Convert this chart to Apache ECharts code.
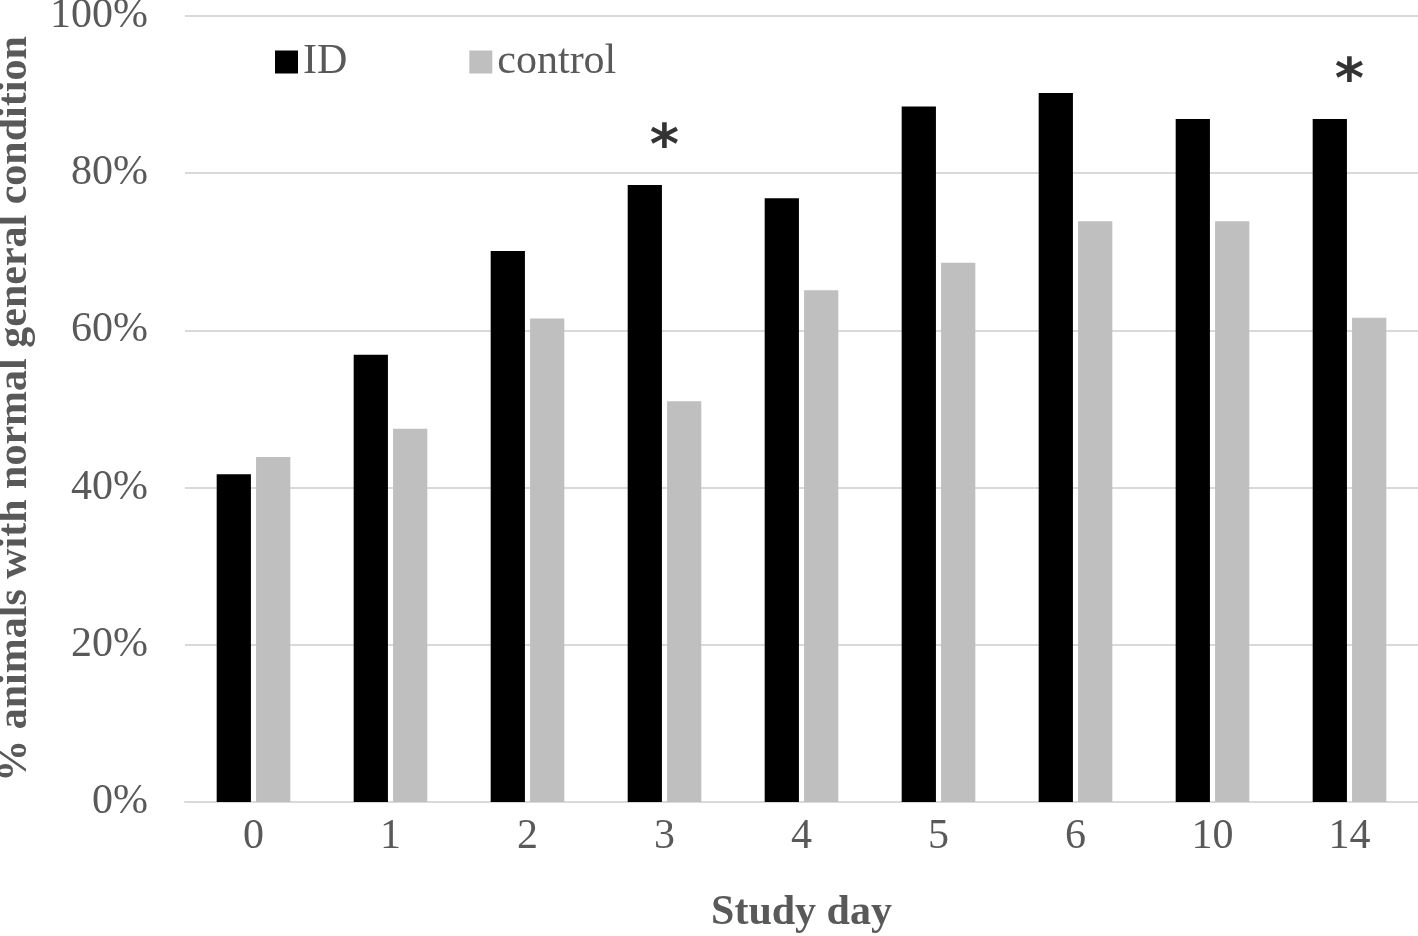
<!DOCTYPE html>
<html><head><meta charset="utf-8">
<script src="https://cdn.jsdelivr.net/npm/echarts@6/dist/echarts.min.js"></script>
<style>html,body{margin:0;padding:0;background:#fff}#c{width:1418px;height:936px}</style>
</head><body><div id="c"></div>
<script>
const categories = ['0','1','2','3','4','5','6','10','14'];
const idValues = [41.7, 56.9, 70.1, 78.5, 76.8, 88.5, 90.2, 86.9, 86.9];
const controlValues = [43.9, 47.5, 61.5, 51.0, 65.1, 68.6, 73.9, 73.9, 61.6];
const starValues = [null, null, null, 83.2, null, null, null, null, 91.6];
const yTicks = [0, 20, 40, 60, 80, 100];

const font = 'Liberation Serif';
const chart = echarts.init(document.getElementById('c'));
chart.setOption({
  animation: false,
  textStyle: {fontFamily: font},
  grid: {left: 185, right: 0, top: 16, bottom: 134, outerBoundsMode: 'none', containLabel: false},
  legend: {
    data: ['ID', 'control'], left: 270, top: 36, itemWidth: 23, itemHeight: 23, itemGap: 122,
    icon: 'rect',
    textStyle: {fontFamily: font, fontSize: 42, color: '#595959'}
  },
  xAxis: {
    type: 'category', data: categories,
    axisLine: {lineStyle: {color: '#d9d9d9', width: 2}},
    axisTick: {show: false},
    axisLabel: {fontFamily: font, fontSize: 42, color: '#595959', margin: 14},
    name: 'Study day', nameLocation: 'middle', nameGap: 90,
    nameTextStyle: {fontFamily: font, fontSize: 42, fontWeight: 'bold', color: '#595959'}
  },
  yAxis: {
    type: 'value', min: 0, max: 100, interval: 20,
    axisLine: {show: false}, axisTick: {show: false},
    splitLine: {lineStyle: {color: '#d9d9d9', width: 2}},
    axisLabel: {fontFamily: font, fontSize: 42, color: '#595959', margin: 37,
      formatter: v => yTicks.includes(v) ? v + '%' : ''},
    name: '% animals with normal general condition', nameLocation: 'middle', nameGap: 149,
    nameTextStyle: {fontFamily: font, fontSize: 42, fontWeight: 'bold', color: '#595959'}
  },
  series: [
    {name: 'ID', type: 'bar', data: idValues, barWidth: '25%', barGap: '15%',
     itemStyle: {color: '#000000'}},
    {name: 'control', type: 'bar', data: controlValues, barWidth: '25%',
     itemStyle: {color: '#bfbfbf'}},
    {name: 'sig', type: 'scatter', data: starValues, symbolSize: 0,
     label: {show: true, position: 'inside', formatter: '*', fontFamily: 'DejaVu Sans',
       fontSize: 56, fontWeight: 'bold', color: '#000'}}
  ]
});
</script></body></html>
